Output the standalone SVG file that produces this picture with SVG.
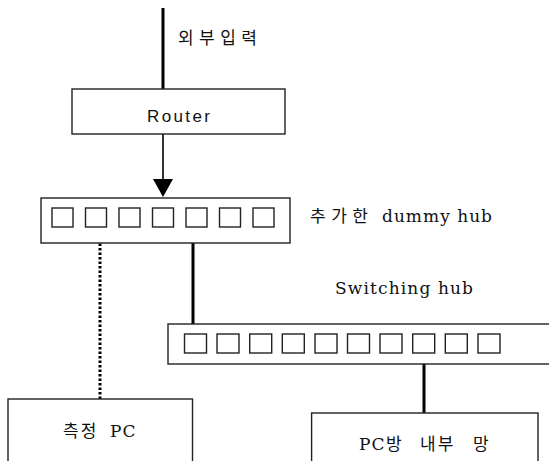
<svg xmlns="http://www.w3.org/2000/svg" width="549" height="461" viewBox="0 0 549 461">
<style>
.box{fill:#fff;stroke:#222;stroke-width:1.4}
.port{fill:#fff;stroke:#222;stroke-width:1.4}
.ko{font-family:"Noto Sans CJK KR","DejaVu Sans",sans-serif;font-size:17px;fill:#111}
.lat{font-family:"DejaVu Serif","Noto Sans CJK KR",serif;font-size:17px;fill:#111}
.sans{font-family:"Liberation Sans",Arial,sans-serif;font-size:17px;fill:#111}
.wire{stroke:#000;stroke-width:3;fill:none}
</style>
<rect width="549" height="461" fill="#fff"/>
<g id="connectors">
<line class="wire" x1="163" y1="8" x2="163" y2="89"/>
<line x1="163" y1="134" x2="163" y2="182" stroke="#000" stroke-width="1.6"/>
<polygon points="153,179 173,179 163,197" fill="#000"/>
<line class="wire" x1="100" y1="212" x2="100" y2="399" stroke-dasharray="2.5,2"/>
<line class="wire" x1="193" y1="227" x2="193" y2="328"/>
<line class="wire" x1="424" y1="353" x2="424" y2="413"/>
</g>
<g id="label-input">
<text class="ko" x="178" y="44" textLength="79" lengthAdjust="spacing">외부입력</text>
</g>
<g id="router">
<rect class="box" x="72" y="89" width="213" height="45"/>
<text class="sans" x="147" y="122" textLength="63" lengthAdjust="spacing">Router</text>
</g>
<g id="dummy-hub">
<rect class="box" x="41" y="198" width="249" height="45"/>
<rect class="port" x="52" y="208" width="21" height="19"/>
<rect class="port" x="85.5" y="208" width="21" height="19"/>
<rect class="port" x="119" y="208" width="21" height="19"/>
<rect class="port" x="152.5" y="208" width="21" height="19"/>
<rect class="port" x="186" y="208" width="21" height="19"/>
<rect class="port" x="219.5" y="208" width="21" height="19"/>
<rect class="port" x="253" y="208" width="21" height="19"/>
<text class="ko" x="310" y="222" textLength="58" lengthAdjust="spacing">추가한</text>
<text class="lat" x="382" y="222" textLength="110" lengthAdjust="spacing">dummy hub</text>
</g>
<g id="switching-hub">
<text class="lat" x="335" y="294" textLength="138" lengthAdjust="spacing">Switching hub</text>
<rect class="box" x="168" y="324" width="400" height="40"/>
<rect class="port" x="184.5" y="334" width="22" height="19"/>
<rect class="port" x="217" y="334" width="22" height="19"/>
<rect class="port" x="249.7" y="334" width="22" height="19"/>
<rect class="port" x="282.3" y="334" width="22" height="19"/>
<rect class="port" x="315" y="334" width="22" height="19"/>
<rect class="port" x="347.5" y="334" width="22" height="19"/>
<rect class="port" x="380" y="334" width="22" height="19"/>
<rect class="port" x="412.7" y="334" width="22" height="19"/>
<rect class="port" x="445.3" y="334" width="22" height="19"/>
<rect class="port" x="478" y="334" width="22" height="19"/>
</g>
<g id="measure-pc">
<rect class="box" x="8" y="399" width="184.5" height="80"/>
<text class="ko" x="63" y="437" letter-spacing="2">측정 <tspan class="lat" x="110" letter-spacing="1">PC</tspan></text>
</g>
<g id="pcbang-net">
<rect class="box" x="311.6" y="413" width="226.4" height="70"/>
<text class="ko" x="359" y="450"><tspan class="lat" letter-spacing="1">PC</tspan><tspan x="386">방</tspan><tspan x="420" letter-spacing="2">내부</tspan><tspan x="473">망</tspan></text>
</g>
</svg>
